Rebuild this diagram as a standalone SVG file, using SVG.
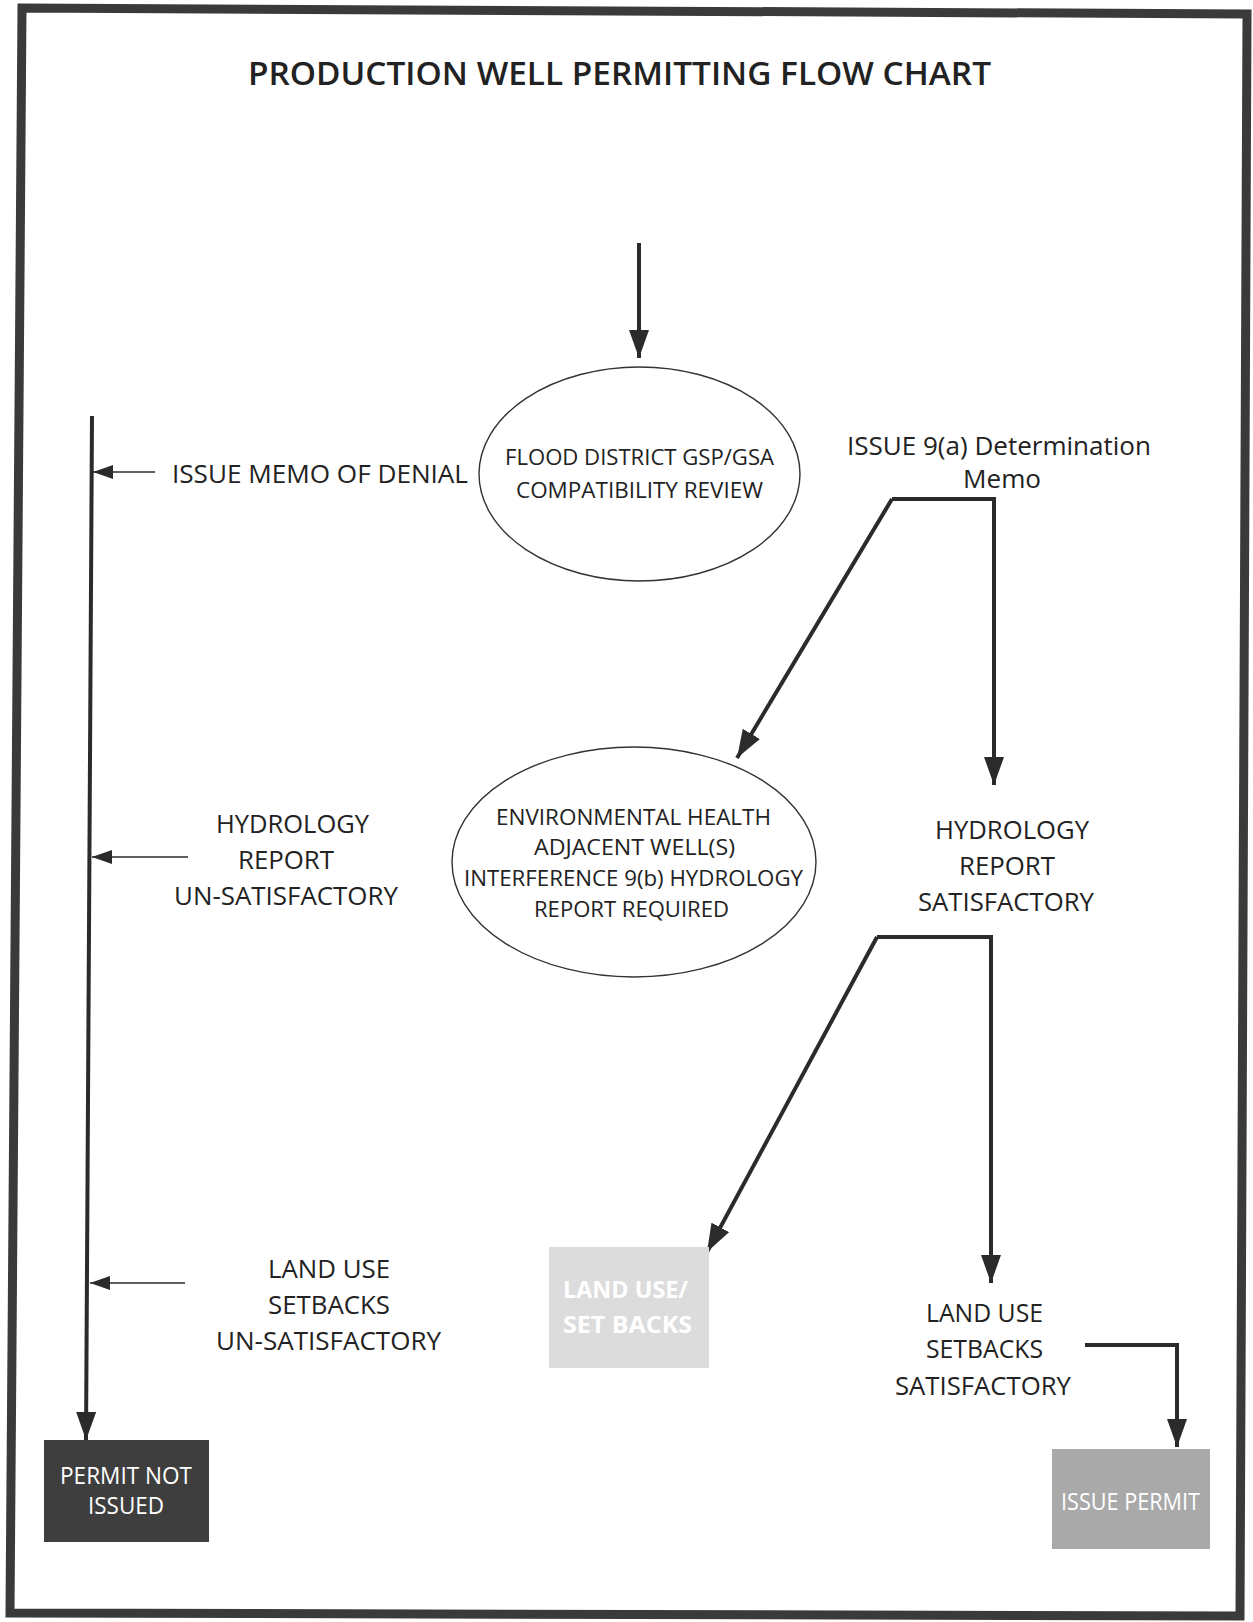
<svg xmlns="http://www.w3.org/2000/svg" width="1253" height="1622" viewBox="0 0 1253 1622">
<style>
  .t { font-family: "Open Sans", "Liberation Sans", sans-serif; fill: #222; }
  .lbl { font-size: 26px; }
  .ell { font-size: 21px; }
  .box { font-size: 24px; fill: #ffffff; }
  .thick { fill: none; stroke: #2b2b2b; stroke-width: 4; stroke-linejoin: miter; }
  .thin { fill: none; stroke: #2b2b2b; stroke-width: 1.6; }
  .node { fill: #ffffff; stroke: #333; stroke-width: 1.4; }
</style>
<defs>
  <marker id="ah" markerUnits="userSpaceOnUse" markerWidth="28" markerHeight="20" refX="28" refY="10" orient="auto">
    <path d="M0,0 L28,10 L0,20 z" fill="#2b2b2b"/>
  </marker>
  <marker id="ahs" markerUnits="userSpaceOnUse" markerWidth="20" markerHeight="14" refX="20" refY="7" orient="auto">
    <path d="M0,0 L20,7 L0,14 z" fill="#2b2b2b"/>
  </marker>
</defs>
<rect x="0" y="0" width="1253" height="1622" fill="#ffffff"/>
<polygon points="22,8 1247,14 1240,1616 10,1613" fill="none" stroke="#3a3a3a" stroke-width="9"/>

<text class="t" x="248" y="85" font-size="32" font-weight="600" textLength="743" lengthAdjust="spacingAndGlyphs">PRODUCTION WELL PERMITTING FLOW CHART</text>

<g id="connectors">
  <path class="thick" d="M639,243 L639,358" stroke-width="3" marker-end="url(#ah)"/>
  <path class="thick" d="M892,499 L994,499 L994,785" marker-end="url(#ah)"/>
  <path class="thick" d="M892,499 L737,758" marker-end="url(#ah)"/>
  <path class="thick" d="M877,937 L991,937 L991,1283" marker-end="url(#ah)"/>
  <path class="thick" d="M877,937 L707,1252" marker-end="url(#ah)"/>
  <path class="thick" d="M1085,1345 L1177,1345 L1177,1447" marker-end="url(#ah)"/>
  <path class="thick" d="M92,416 L86,1440" stroke-width="3" marker-end="url(#ah)"/>
  <path class="thin" d="M155,472 L93,472" marker-end="url(#ahs)"/>
  <path class="thin" d="M188,857 L92,857" stroke="#8a8a8a" marker-end="url(#ahs)"/>
  <path class="thin" d="M185,1283 L90,1283" marker-end="url(#ahs)"/>
</g>

<g id="flood-review">
  <ellipse class="node" cx="639.5" cy="474" rx="160.5" ry="107"/>
  <text class="t ell" x="505" y="465" textLength="269" lengthAdjust="spacingAndGlyphs">FLOOD DISTRICT GSP/GSA</text>
  <text class="t ell" x="516" y="498" textLength="247" lengthAdjust="spacingAndGlyphs">COMPATIBILITY REVIEW</text>
</g>

<g id="memo-denial">
  <text class="t lbl" x="172" y="483" textLength="296" lengthAdjust="spacingAndGlyphs">ISSUE MEMO OF DENIAL</text>
</g>

<g id="determination-memo">
  <text class="t lbl" x="847" y="455" textLength="304" lengthAdjust="spacingAndGlyphs">ISSUE 9(a) Determination</text>
  <text class="t lbl" x="963" y="488" textLength="78" lengthAdjust="spacingAndGlyphs">Memo</text>
</g>

<g id="env-health">
  <ellipse class="node" cx="634" cy="862" rx="182" ry="115"/>
  <text class="t ell" x="496" y="825" textLength="275" lengthAdjust="spacingAndGlyphs">ENVIRONMENTAL HEALTH</text>
  <text class="t ell" x="534" y="855" textLength="201" lengthAdjust="spacingAndGlyphs">ADJACENT WELL(S)</text>
  <text class="t ell" x="464" y="886" textLength="339" lengthAdjust="spacingAndGlyphs">INTERFERENCE 9(b) HYDROLOGY</text>
  <text class="t ell" x="534" y="917" textLength="195" lengthAdjust="spacingAndGlyphs">REPORT REQUIRED</text>
</g>

<g id="hydro-unsat">
  <text class="t lbl" x="216" y="833" textLength="153" lengthAdjust="spacingAndGlyphs">HYDROLOGY</text>
  <text class="t lbl" x="238" y="869" textLength="96" lengthAdjust="spacingAndGlyphs">REPORT</text>
  <text class="t lbl" x="174" y="905" textLength="224" lengthAdjust="spacingAndGlyphs">UN-SATISFACTORY</text>
</g>

<g id="hydro-sat">
  <text class="t lbl" x="935" y="839" textLength="154" lengthAdjust="spacingAndGlyphs">HYDROLOGY</text>
  <text class="t lbl" x="959" y="875" textLength="96" lengthAdjust="spacingAndGlyphs">REPORT</text>
  <text class="t lbl" x="918" y="911" textLength="176" lengthAdjust="spacingAndGlyphs">SATISFACTORY</text>
</g>

<g id="landuse-unsat">
  <text class="t lbl" x="268" y="1278" textLength="122" lengthAdjust="spacingAndGlyphs">LAND USE</text>
  <text class="t lbl" x="268" y="1314" textLength="122" lengthAdjust="spacingAndGlyphs">SETBACKS</text>
  <text class="t lbl" x="216" y="1350" textLength="225" lengthAdjust="spacingAndGlyphs">UN-SATISFACTORY</text>
</g>

<g id="landuse-box">
  <rect x="549" y="1247" width="160" height="121" fill="#dcdcdc"/>
  <text class="t box" x="563" y="1298" font-size="26" font-weight="700" textLength="125" lengthAdjust="spacingAndGlyphs">LAND USE/</text>
  <text class="t box" x="563" y="1333" font-size="26" font-weight="700" textLength="129" lengthAdjust="spacingAndGlyphs">SET BACKS</text>
</g>

<g id="landuse-sat">
  <text class="t lbl" x="926" y="1322" textLength="117" lengthAdjust="spacingAndGlyphs">LAND USE</text>
  <text class="t lbl" x="926" y="1358" textLength="117" lengthAdjust="spacingAndGlyphs">SETBACKS</text>
  <text class="t lbl" x="895" y="1395" textLength="176" lengthAdjust="spacingAndGlyphs">SATISFACTORY</text>
</g>

<g id="permit-not-issued">
  <rect x="44" y="1440" width="165" height="102" fill="#3e3e3e"/>
  <text class="t box" x="60" y="1484" textLength="132" lengthAdjust="spacingAndGlyphs">PERMIT NOT</text>
  <text class="t box" x="88" y="1514" textLength="76" lengthAdjust="spacingAndGlyphs">ISSUED</text>
</g>

<g id="issue-permit">
  <rect x="1052" y="1449" width="158" height="100" fill="#a9a9a9"/>
  <text class="t box" x="1061" y="1510" textLength="139" lengthAdjust="spacingAndGlyphs">ISSUE PERMIT</text>
</g>
</svg>
